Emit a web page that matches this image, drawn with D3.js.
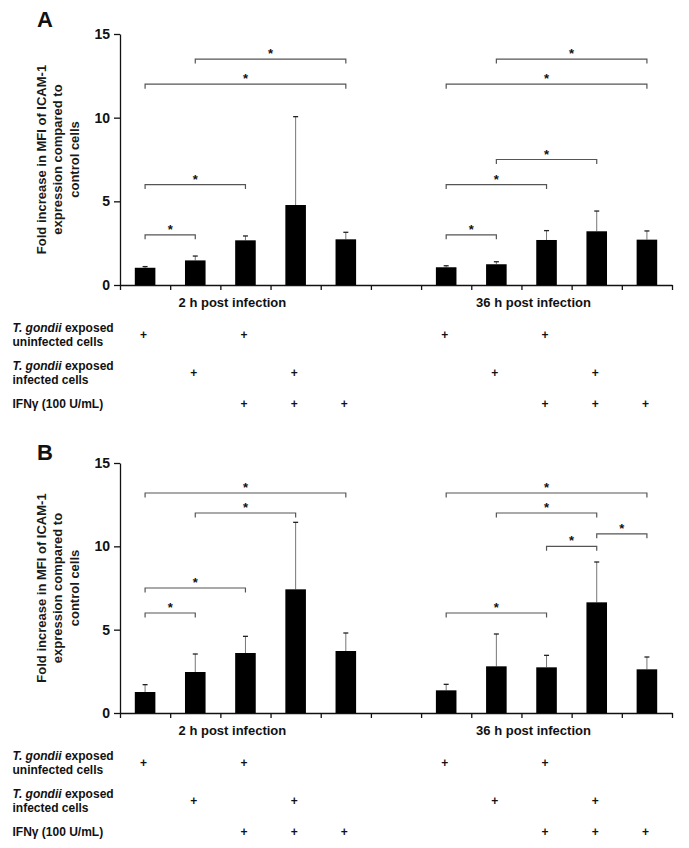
<!DOCTYPE html>
<html>
<head>
<meta charset="utf-8">
<script src="https://cdn.jsdelivr.net/npm/d3@7"></script>
<style>
  body { margin: 0; background: #fff; }
  svg { display: block; font-family: "Liberation Sans", Arial, sans-serif; }
</style>
</head>
<body>
<svg id="chart" width="689" height="848"></svg>
<script>
// ---------------- data ----------------
const panels = ["A", "B"];
const timepoints = ["2 h post infection", "36 h post infection"];
const conditions = ["uninf", "inf", "uninf+IFN", "inf+IFN", "IFN"];
const yTicks = [0, 5, 10, 15];
const yTitle = ["Fold increase in MFI of ICAM-1", "expression compared to", "control cells"];

// treatment table (1 = "+")
const rowUninfected = [1, 0, 1, 0, 0];
const rowInfected   = [0, 1, 0, 1, 0];
const rowIFN        = [0, 0, 1, 1, 1];

// Panel A means and SD (per timepoint)
const meanA2h  = [1.03, 1.47, 2.67, 4.78, 2.73];
const sdA2h    = [0.07, 0.26, 0.26, 5.28, 0.42];
const meanA36h = [1.06, 1.24, 2.69, 3.21, 2.71];
const sdA36h   = [0.09, 0.15, 0.56, 1.21, 0.52];

// Panel B means and SD
const meanB2h  = [1.26, 2.46, 3.60, 7.42, 3.72];
const sdB2h    = [0.44, 1.08, 1.00, 4.02, 1.08];
const meanB36h = [1.36, 2.80, 2.74, 6.64, 2.62];
const sdB36h   = [0.36, 1.94, 0.72, 2.42, 0.74];

// significance brackets: [from condition, to condition, level]
const sigA2h  = [[0, 1, 3], [0, 2, 6], [0, 4, 12], [1, 4, 13.5]];
const sigA36h = [[0, 1, 3], [0, 2, 6], [1, 3, 7.5], [0, 4, 12], [1, 4, 13.5]];
const sigB2h  = [[0, 1, 6], [0, 2, 7.5], [1, 3, 12], [0, 4, 13.2]];
const sigB36h = [[0, 2, 6], [2, 3, 10], [3, 4, 10.75], [1, 3, 12], [0, 4, 13.2]];

// ---------------- drawing ----------------
const svg = d3.select("#chart");
const slots = d3.range(11); // 5 bars, gap, 5 bars
const slotOf = (g, i) => g * 6 + i;

const x = d3.scaleBand().domain(slots).range([120, 672]).paddingInner(0.59).paddingOuter(0.295);
const xl = d3.scaleLinear().domain([0, 11]).range([120, 672]);
const xc = s => x(s) + x.bandwidth() / 2;

const panelDefs = [
  { name: panels[0], top: 34, bottom: 285, letterY: 27,
    means: [meanA2h, meanA36h], sds: [sdA2h, sdA36h], sigs: [sigA2h, sigA36h] },
  { name: panels[1], top: 463, bottom: 713, letterY: 460,
    means: [meanB2h, meanB36h], sds: [sdB2h, sdB36h], sigs: [sigB2h, sigB36h] }
];

panelDefs.forEach(p => {
  const g = svg.append("g");
  const y = d3.scaleLinear().domain([0, 15]).range([p.bottom, p.top]);

  // panel letter
  g.append("text").attr("x", 37).attr("y", p.letterY)
    .attr("font-size", 22).attr("font-weight", "bold").attr("fill", "#111").text(p.name);

  // y axis
  const ya = g.append("g").attr("transform", "translate(120,0)")
    .call(d3.axisLeft(y).tickValues(yTicks).tickSize(6).tickPadding(4).tickSizeOuter(0));
  ya.selectAll("path,line").attr("stroke", "#111").attr("stroke-width", 1.3);
  ya.selectAll("text").attr("font-size", 14).attr("font-weight", "bold")
    .attr("fill", "#111").attr("font-family", "Liberation Sans, Arial, sans-serif");

  // x axis
  const xa = g.append("g").attr("transform", `translate(0,${p.bottom})`)
    .call(d3.axisBottom(xl).tickValues(d3.range(12)).tickSize(5).tickFormat("").tickSizeOuter(0));
  xa.selectAll("path,line").attr("stroke", "#111").attr("stroke-width", 1.3);

  // y title
  const cy = (p.top + p.bottom) / 2;
  const t = g.append("text").attr("transform", `translate(45.5,${cy}) rotate(-90)`)
    .attr("text-anchor", "middle").attr("font-size", 13).attr("font-weight", "bold").attr("fill", "#1a1a1a");
  yTitle.forEach((line, k) => {
    t.append("tspan").attr("x", 0).attr("dy", k === 0 ? 0 : 16.5).text(line);
  });

  [0, 1].forEach(gi => {
    const means = p.means[gi], sds = p.sds[gi];
    const data = conditions.map((c, i) => ({ s: slotOf(gi, i), m: means[i], sd: sds[i] }));

    // error bars
    g.selectAll(null).data(data).enter().append("line")
      .attr("x1", d => xc(d.s)).attr("x2", d => xc(d.s))
      .attr("y1", d => y(d.m)).attr("y2", d => y(d.m + d.sd))
      .attr("stroke", "#777").attr("stroke-width", 1);
    g.selectAll(null).data(data).enter().append("line")
      .attr("x1", d => xc(d.s) - 2.5).attr("x2", d => xc(d.s) + 2.5)
      .attr("y1", d => y(d.m + d.sd)).attr("y2", d => y(d.m + d.sd))
      .attr("stroke", "#222").attr("stroke-width", 1.3);

    // bars
    g.selectAll(null).data(data).enter().append("rect")
      .attr("x", d => x(d.s)).attr("width", x.bandwidth())
      .attr("y", d => y(d.m)).attr("height", d => y(0) - y(d.m))
      .attr("fill", "#000");

    // significance brackets
    const sg = p.sigs[gi].map(([a, b, lv]) => ({ x1: xc(slotOf(gi, a)), x2: xc(slotOf(gi, b)), yy: y(lv) }));
    g.selectAll(null).data(sg).enter().append("path")
      .attr("d", d => `M${d.x1},${d.yy + 4.5}V${d.yy}H${d.x2}V${d.yy + 4.5}`)
      .attr("fill", "none").attr("stroke", "#555").attr("stroke-width", 1.2);
    g.selectAll(null).data(sg).enter().append("text")
      .attr("x", d => (d.x1 + d.x2) / 2).attr("y", d => d.yy - 1)
      .attr("text-anchor", "middle").attr("font-size", 13).attr("font-weight", "bold")
      .attr("fill", "#111").text("*");

    // group label
    g.append("text")
      .attr("x", xc(slotOf(gi, 2)) - x.step() * 0.26).attr("y", p.bottom + 21.5)
      .attr("text-anchor", "middle").attr("font-size", 13).attr("font-weight", "bold")
      .attr("fill", "#111").text(timepoints[gi]);

    // treatment pluses
    const rows = [rowUninfected, rowInfected, rowIFN];
    const rowY = [p.bottom + 53.5, p.bottom + 91.5, p.bottom + 122.5];
    rows.forEach((r, ri) => {
      g.selectAll(null).data(r.map((v, i) => ({ v, s: slotOf(gi, i) })).filter(d => d.v))
        .enter().append("text")
        .attr("x", d => xc(d.s) - 1.5).attr("y", rowY[ri])
        .attr("text-anchor", "middle").attr("font-size", 12).attr("font-weight", "bold")
        .attr("fill", "#111").text("+");
    });
  });

  // row labels
  const lab = (yy, parts) => {
    const tx = g.append("text").attr("x", 12.5).attr("y", yy)
      .attr("font-size", 12).attr("font-weight", "bold").attr("fill", "#111");
    parts.forEach(([s, it]) => tx.append("tspan").attr("font-style", it ? "italic" : "normal").text(s));
  };
  lab(p.bottom + 47, [["T. gondii", true], [" exposed", false]]);
  lab(p.bottom + 61, [["uninfected cells", false]]);
  lab(p.bottom + 84.5, [["T. gondii", true], [" exposed", false]]);
  lab(p.bottom + 98.5, [["infected cells", false]]);
  lab(p.bottom + 122.5, [["IFNγ (100 U/mL)", false]]);
});
</script>
</body>
</html>
